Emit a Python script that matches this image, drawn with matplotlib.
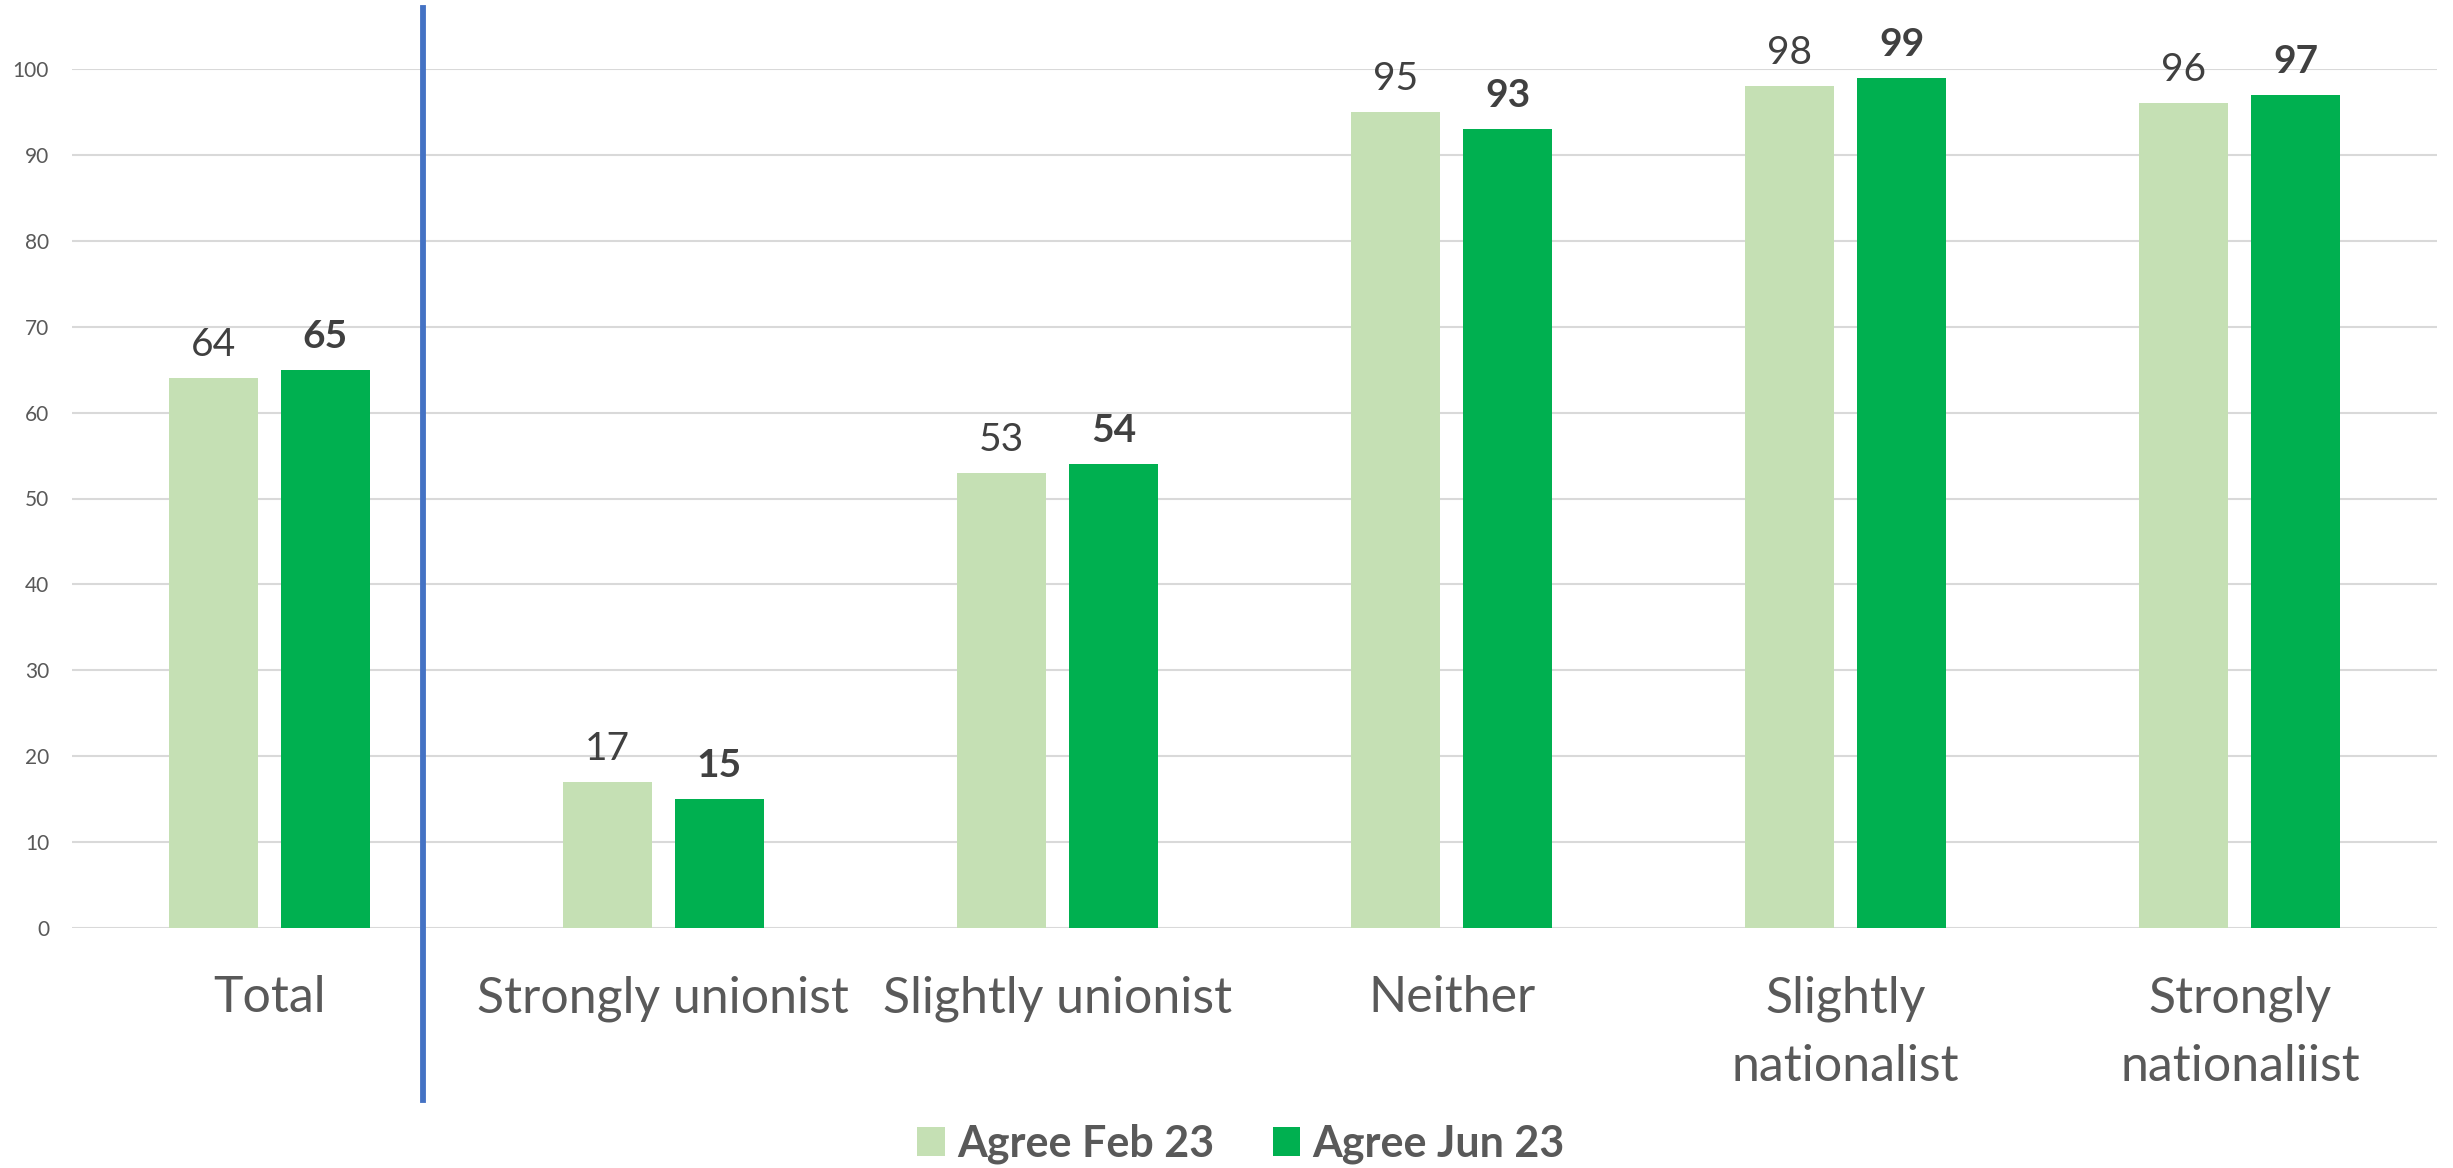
import matplotlib
matplotlib.use("Agg")
import matplotlib.pyplot as plt
import numpy as np

categories = ["Total", "Strongly unionist", "Slightly unionist", "Neither",
              "Slightly\nnationalist", "Strongly\nnationaliist"]
feb23 = [64, 17, 53, 95, 98, 96]
jun23 = [65, 15, 54, 93, 99, 97]
series_names = ["Agree Feb 23", "Agree Jun 23"]
yticks = [0, 10, 20, 30, 40, 50, 60, 70, 80, 90, 100]

FONT = ["Lato", "DejaVu Sans"]
plt.rcParams["font.family"] = FONT

c_light = "#C5E0B4"
c_dark = "#00B050"
c_lab = "#404040"
c_axis = "#595959"

fig = plt.figure(figsize=(24.53, 11.68), dpi=100)
ax = fig.add_axes([72/2453, (1168-928)/1168, (2437-72)/2453, (928-69)/1168])

x = np.arange(len(categories))
w = 0.226
off = 0.142
b1 = ax.bar(x - off, feb23, w, color=c_light, zorder=3, label=series_names[0])
b2 = ax.bar(x + off, jun23, w, color=c_dark, zorder=3, label=series_names[1])

for xi, v in zip(x - off, feb23):
    ax.annotate(str(v), (xi, v), xytext=(0, 22), textcoords="offset pixels",
                ha="center", va="baseline", fontsize=28, color=c_lab, clip_on=False)
for xi, v in zip(x + off, jun23):
    ax.annotate(str(v), (xi, v), xytext=(0, 22), textcoords="offset pixels",
                ha="center", va="baseline", fontsize=28, color=c_lab,
                fontweight="bold", clip_on=False)

ax.set_xlim(-0.5, len(categories) - 0.5)
ax.set_ylim(0, 100)
ax.set_yticks(yticks)
ax.set_yticklabels([str(t) for t in yticks], fontsize=15, color=c_axis)
ax.set_xticks(x)
ax.set_xticklabels(categories, fontsize=36, color=c_axis, linespacing=1.6)
ax.tick_params(axis="y", length=0, pad=16.5)
ax.tick_params(axis="x", length=0, pad=34)

ax.yaxis.grid(True, color="#D9D9D9", linewidth=1.5, zorder=0)
ax.set_axisbelow(True)
for s in ax.spines.values():
    s.set_visible(False)

# separator line between Total and the groups
ax.axvline(0.391, ymin=-(1100-928)/(928-69), ymax=(928-8)/(928-69),
           color="#4472C4", linewidth=4.2, clip_on=False, zorder=4)

fig.legend(handles=[b1, b2], labels=series_names, loc="center",
           bbox_to_anchor=(1241/2453, 24/1168), ncol=2, frameon=False,
           prop={"family": FONT, "weight": "bold", "size": 31},
           labelcolor=c_axis, handlelength=0.65, handleheight=0.65,
           handletextpad=0.28, columnspacing=1.35, borderpad=0)

fig.savefig("out.png", dpi=100)
